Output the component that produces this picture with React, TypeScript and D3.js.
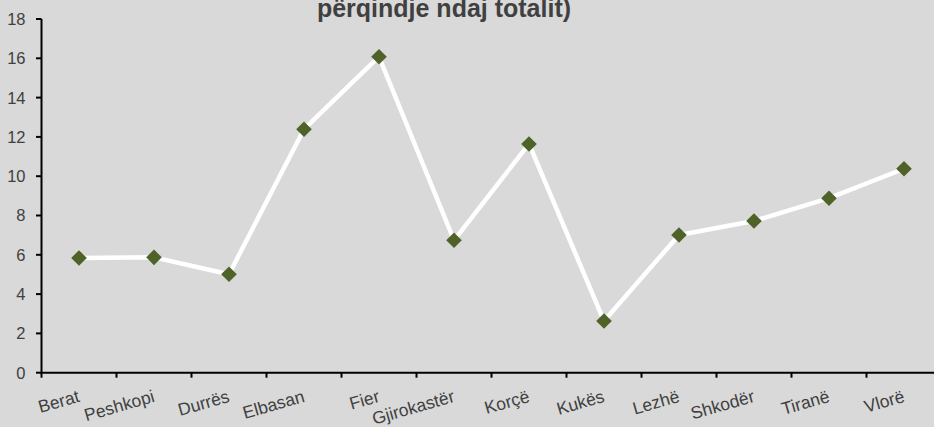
import React from "react";
import * as d3 from "d3";

const categories = ["Berat", "Peshkopi", "Durrës", "Elbasan", "Fier", "Gjirokastër", "Korçë", "Kukës", "Lezhë", "Shkodër", "Tiranë", "Vlorë"];
const values = [5.84, 5.87, 5.01, 12.39, 16.08, 6.74, 11.64, 2.63, 7.01, 7.72, 8.88, 10.38];
const yTicks = [0, 2, 4, 6, 8, 10, 12, 14, 16, 18];
const titleLine = "përqindje ndaj totalit)";

const W = 934;
const H = 427;

export default function App() {
  const x = d3.scaleBand<string>().domain(categories).range([41.5, 941.5]).padding(0);
  const y = d3.scaleLinear().domain([0, 18]).range([372.7, 19]);
  const cx = (c: string) => (x(c) as number) + x.bandwidth() / 2;
  const line = d3
    .line<number>()
    .x((_, i) => cx(categories[i]))
    .y((d) => y(d));
  const diamond = d3.symbol().type(d3.symbolDiamond2).size(155)();
  const tickXs = categories.map((c) => x(c) as number).concat([x.range()[1]]);
  const textColor = "#404040";
  const font = "Arial, 'Liberation Sans', sans-serif";

  return (
    <svg width={W} height={H} style={{ position: "absolute", left: 0, top: 0, display: "block" }} fontFamily={font}>
      <rect x={0} y={0} width={W} height={H} fill="#d9d9d9" />
      <text x={444} y={16.8} textAnchor="middle" fontSize={25} fontWeight="bold" fill={textColor}>
        {titleLine}
      </text>
      {/* y axis */}
      <line x1={41.5} x2={41.5} y1={y(18)} y2={y(0)} stroke="#000" strokeWidth={2} />
      {yTicks.map((t) => (
        <g key={t}>
          <line x1={36} x2={41.5} y1={y(t)} y2={y(t)} stroke="#000" strokeWidth={2} />
          <text x={25.5} y={y(t)} dy="0.36em" textAnchor="end" fontSize={16.5} fill={textColor}>
            {t}
          </text>
        </g>
      ))}
      {/* x axis */}
      <line x1={40.5} x2={W} y1={y(0)} y2={y(0)} stroke="#000" strokeWidth={2} />
      {tickXs.map((tx, i) => (
        <line key={i} x1={tx} x2={tx} y1={y(0)} y2={y(0) + 5} stroke="#000" strokeWidth={2} />
      ))}
      {categories.map((c) => (
        <text
          key={c}
          transform={`translate(${cx(c) + 1.5},${401.5}) rotate(-16)`}
          textAnchor="end"
          fontSize={17.5}
          fill={textColor}
        >
          {c}
        </text>
      ))}
      <path d={line(values) || ""} fill="none" stroke="#ffffff" strokeWidth={4.5} strokeLinejoin="round" />
      {values.map((v, i) => (
        <path key={i} d={diamond || ""} transform={`translate(${cx(categories[i])},${y(v)})`} fill="#4f6228" />
      ))}
    </svg>
  );
}
